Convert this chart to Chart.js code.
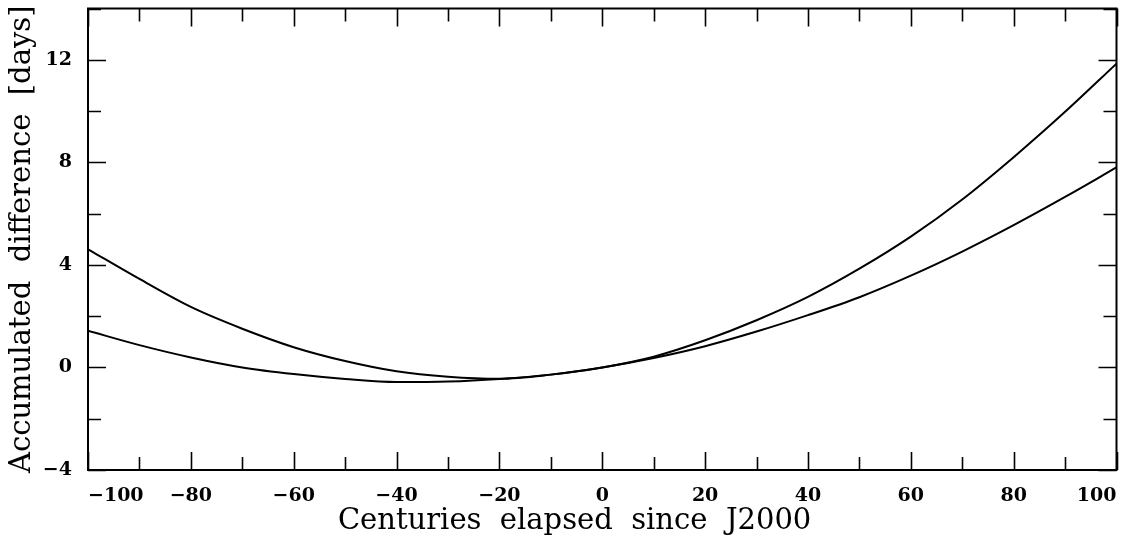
<!DOCTYPE html>
<html><head><meta charset="utf-8">
<script src="https://cdn.jsdelivr.net/npm/chart.js@4/dist/chart.umd.min.js"></script>
<style>html,body{margin:0;padding:0;background:#fff;}#wrap{width:1127px;height:537px;position:relative;}</style>
</head><body><div id="wrap"><canvas id="c"></canvas></div>
<script>
const centuries = [-100,-90,-80,-70,-60,-50,-40,-30,-20,-10,0,10,20,30,40,50,60,70,80,90,100];
const seriesA = [4.61,3.45,2.36,1.51,0.79,0.25,-0.15,-0.36,-0.44,-0.28,0.0,0.42,1.06,1.84,2.75,3.85,5.10,6.55,8.20,9.97,11.85];
const seriesB = [1.43,0.87,0.39,0.00,-0.26,-0.45,-0.57,-0.55,-0.45,-0.28,0.0,0.37,0.83,1.40,2.04,2.74,3.58,4.52,5.55,6.65,7.80];
const xTickValues = [-100,-90,-80,-70,-60,-50,-40,-30,-20,-10,0,10,20,30,40,50,60,70,80,90,100];
const yTickValues = [-4,-2,0,2,4,6,8,10,12,14];
const xLabelStep = 20;
const yLabelStep = 4;
const xTitle = 'Centuries  elapsed  since  J2000      ';
const yTitle = 'Accumulated  difference  [days]';

const FONT = "'DejaVu Serif', serif";
const fmt = v => String(v).replace('-', '\u2212');

const frameTicks = {
  id: 'frameTicks',
  afterDatasetsDraw(chart) {
    const {ctx, chartArea: a, scales: {x, y}} = chart;
    ctx.save();
    ctx.strokeStyle = '#000';
    ctx.lineWidth = 2;
    ctx.strokeRect(a.left, a.top, a.right - a.left, a.bottom - a.top);
    ctx.lineWidth = 1.6;
    ctx.beginPath();
    xTickValues.forEach(v => {
      const px = Math.round(x.getPixelForValue(v)) + 0.5;
      const len = (v % xLabelStep === 0) ? 18 : 13;
      ctx.moveTo(px, a.bottom); ctx.lineTo(px, a.bottom - len);
      ctx.moveTo(px, a.top); ctx.lineTo(px, a.top + len);
    });
    yTickValues.forEach(v => {
      const py = Math.round(y.getPixelForValue(v)) + 0.5;
      const len = ((v - yTickValues[0]) % yLabelStep === 0) ? 18 : 13;
      ctx.moveTo(a.left, py); ctx.lineTo(a.left + len, py);
      ctx.moveTo(a.right, py); ctx.lineTo(a.right - len, py);
    });
    ctx.stroke();
    ctx.restore();
  }
};

const ds = (vals) => ({
  data: centuries.map((c, i) => ({x: c, y: vals[i]})),
  borderColor: '#000', borderWidth: 2, pointRadius: 0, fill: false,
  cubicInterpolationMode: 'monotone'
});

new Chart(document.getElementById('c'), {
  type: 'line',
  data: { datasets: [ds(seriesA), ds(seriesB)] },
  options: {
    responsive: true, maintainAspectRatio: false, animation: false, devicePixelRatio: 1,
    layout: { padding: { top: 8.5, right: 10.5, left: 0, bottom: 0 } },
    plugins: { legend: { display: false }, tooltip: { enabled: false } },
    scales: {
      x: {
        type: 'linear', position: 'bottom', min: -100, max: 100,
        grid: { display: false, drawTicks: false }, border: { display: false },
        ticks: { stepSize: xLabelStep, align: 'inner', maxRotation: 0, autoSkip: false, padding: 17,
                 callback: fmt,
                 color: '#000', font: { family: FONT, size: 19, weight: 'bold', lineHeight: 1 } },
        title: { display: true, text: xTitle, color: '#000',
                 font: { family: FONT, size: 29, lineHeight: 1 }, padding: { top: 0, bottom: 1 } },
        afterFit(s) { s.height = 67; s.paddingLeft = 0; s.paddingRight = 0; }
      },
      y: {
        type: 'linear', position: 'left', min: -4, max: 14,
        grid: { display: false, drawTicks: false }, border: { display: false },
        ticks: { stepSize: yLabelStep, includeBounds: false, padding: 16, color: '#000',
                 callback: fmt,
                 font: { family: FONT, size: 19, weight: 'bold', lineHeight: 1 } },
        title: { display: true, text: yTitle, color: '#000',
                 font: { family: FONT, size: 29, lineHeight: 1 }, padding: { top: 8, bottom: 0 } },
        afterFit(s) { s.width = 88; s.paddingTop = 0; s.paddingBottom = 0; }
      }
    }
  },
  plugins: [frameTicks]
});
</script></body></html>
